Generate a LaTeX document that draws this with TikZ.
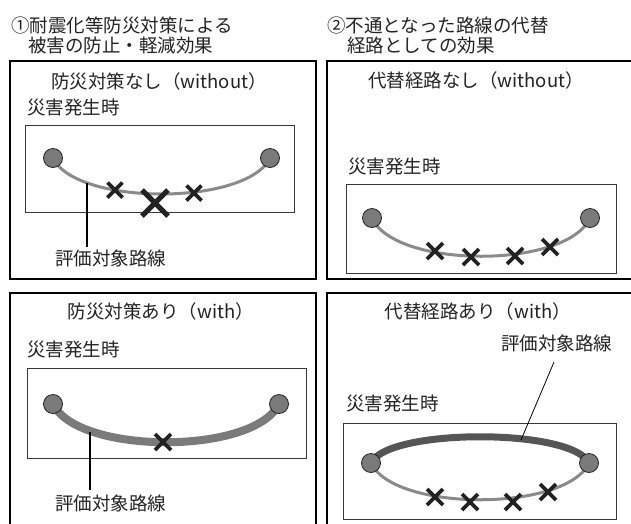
\documentclass[tikz,border=0pt]{standalone}
\usepackage{fontspec}
\setmainfont{Noto Sans CJK JP}
\definecolor{txt}{HTML}{222222}
\definecolor{road}{HTML}{8A8A8A}
\definecolor{roadthick}{HTML}{7A7A7A}
\definecolor{roaddark}{HTML}{555555}
\definecolor{nodefill}{HTML}{7A7A7A}
\tikzset{
  lbl/.style={text=txt, inner sep=0pt, font=\fontsize{18.5}{21}\selectfont},
  outerbox/.style={draw=black, line width=1.4pt},
  innerbox/.style={draw=txt!90, line width=0.9pt},
  endpt/.style={circle, fill=nodefill, draw=txt, line width=0.8pt, minimum size=19pt, inner sep=0pt},
  roadline/.style={draw=road, line width=3pt},
  roadthickline/.style={draw=roadthick, line width=8pt},
  roaddarkline/.style={draw=roaddark, line width=7pt},
  leader/.style={draw=black, line width=1.1pt},
  smallx/.style={draw=txt, line width=3.8pt},
  bigx/.style={draw=txt, line width=5pt},
}
\newcommand{\crossmark}[4]{% x, y, half size, style
  \draw[#4] (#1-#3,#2-#3) -- (#1+#3,#2+#3) (#1-#3,#2+#3) -- (#1+#3,#2-#3);}
\begin{document}
\begin{tikzpicture}[x=1pt,y=-1pt]
\useasboundingbox (0,0) rectangle (631,523);

% headings
\node[lbl, anchor=west] (h1a) at (11,25) {①耐震化等防災対策による};
\node[lbl, anchor=west] (h1b) at (28,45) {被害の防止・軽減効果};
\node[lbl, anchor=west] (h2a) at (327,25) {②不通となった路線の代替};
\node[lbl, anchor=west] (h2b) at (347,45) {経路としての効果};

% outer boxes
\draw[outerbox] (10,61) rectangle (316,279);
\draw[outerbox] (327,61) rectangle (645,279);
\draw[outerbox] (10,293) rectangle (316,535);
\draw[outerbox] (327,293) rectangle (645,535);

% ---------- top-left ----------
\node[lbl] (t1) at (159,81) {防災対策なし（without）};
\node[lbl, anchor=west] (d1) at (27,108) {災害発生時};
\draw[innerbox] (25,125) rectangle (294,212);
\coordinate (a1) at (53,158);
\coordinate (b1) at (270,158);
\draw[roadline] (a1) .. controls (76,206) and (247,206) .. (b1);
\node[endpt] (na1) at (a1) {};
\node[endpt] (nb1) at (b1) {};
\crossmark{115}{190}{7.5}{smallx}
\crossmark{155}{203}{13}{bigx}
\crossmark{194}{193}{7.5}{smallx}
\node[lbl, anchor=west] (l1) at (55,258) {評価対象路線};
\coordinate (p1) at (87,183);
\draw[leader] (p1) -- (87,247);

% ---------- bottom-left ----------
\node[lbl] (t3) at (161,311) {防災対策あり（with）};
\node[lbl, anchor=west] (d3) at (27,349) {災害発生時};
\draw[innerbox] (27,368) rectangle (306,458);
\coordinate (a3) at (53,404);
\coordinate (b3) at (279,404);
\draw[roadthickline] (a3) .. controls (78,455) and (254,455) .. (b3);
\node[endpt] (na3) at (a3) {};
\node[endpt] (nb3) at (b3) {};
\crossmark{163}{442}{8}{smallx}
\node[lbl, anchor=west] (l3) at (55,503) {評価対象路線};
\coordinate (p3) at (90,432);
\draw[leader] (p3) -- (90,490);

% ---------- top-right ----------
\node[lbl] (t2) at (476,80) {代替経路なし（without）};
\node[lbl, anchor=west] (d2) at (348,166) {災害発生時};
\draw[innerbox] (346,184) rectangle (616,273);
\coordinate (a2) at (372,218);
\coordinate (b2) at (590,218);
\draw[roadline] (a2) .. controls (395,269) and (567,269) .. (b2);
\node[endpt] (na2) at (a2) {};
\node[endpt] (nb2) at (b2) {};
\crossmark{435}{251}{8}{smallx}
\crossmark{471}{257}{8}{smallx}
\crossmark{515}{256}{8}{smallx}
\crossmark{550}{247}{8}{smallx}

% ---------- bottom-right ----------
\node[lbl] (t4) at (478,311) {代替経路あり（with）};
\node[lbl, anchor=west] (l4) at (501,343) {評価対象路線};
\node[lbl, anchor=west] (d4) at (346,403) {災害発生時};
\draw[innerbox] (343,423) rectangle (616,519);
\coordinate (a4) at (371,463);
\coordinate (b4) at (589,463);
\draw[roadline] (a4) .. controls (394,512) and (566,512) .. (b4);
\draw[roaddarkline] (a4) .. controls (388,428) and (572,428) .. (b4);
\node[endpt] (na4) at (a4) {};
\node[endpt] (nb4) at (b4) {};
\crossmark{435}{497}{8}{smallx}
\crossmark{470}{502}{8}{smallx}
\crossmark{513}{502}{8}{smallx}
\crossmark{548}{492}{8}{smallx}
\coordinate (p4) at (521,440);
\coordinate (q4) at (554,362);
\draw[leader, line width=0.8pt] (p4) -- (q4);
\end{tikzpicture}
\end{document}
